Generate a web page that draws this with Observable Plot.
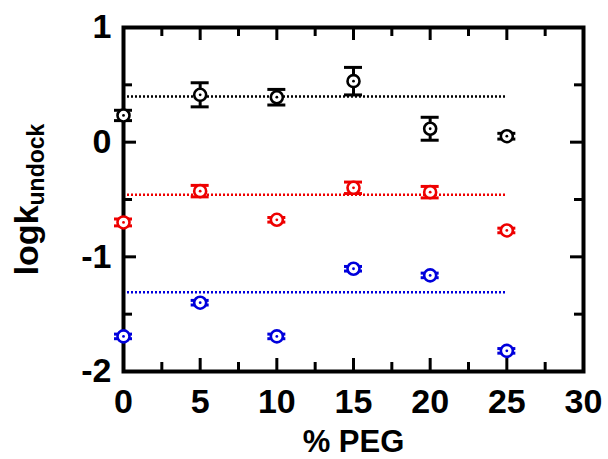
<!DOCTYPE html>
<html>
<head>
<meta charset="utf-8">
<script src="https://cdn.jsdelivr.net/npm/d3@7"></script>
<script src="https://cdn.jsdelivr.net/npm/@observablehq/plot@0.6"></script>
<style>
  html, body { margin: 0; padding: 0; background: white; }
</style>
</head>
<body>
<div id="chart"></div>
<script>
// ---- data ----
const pegPercent = [0, 5, 10, 15, 20, 25];
const blackLog = [0.233, 0.413, 0.392, 0.532, 0.117, 0.052];
const blackErr = [0.045, 0.105, 0.068, 0.12, 0.1, 0.025];
const redLog = [-0.70, -0.427, -0.677, -0.398, -0.436, -0.77];
const redErr = [0.03, 0.05, 0.02, 0.05, 0.05, 0.02];
const blueLog = [-1.694, -1.40, -1.694, -1.104, -1.162, -1.82];
const blueErr = [0.02, 0.02, 0.02, 0.02, 0.02, 0.02];
const meanLog = [0.398, -0.459, -1.308];
const seriesColors = ["#000000", "#ee0000", "#0000dc"];

const xMajor = [0, 5, 10, 15, 20, 25, 30];
const xMinor = [2.5, 7.5, 12.5, 17.5, 22.5, 27.5];
const yMajor = [-2, -1, 0, 1];
const yMinor = [-1.5, -0.5, 0.5];
const xLabel = "% PEG";
const yLabelMain = "logk";
const yLabelSub = "undock";

// ---- build tables ----
const seriesVals = [blackLog, redLog, blueLog];
const seriesErrs = [blackErr, redErr, blueErr];
const points = [];
seriesVals.forEach((vals, s) => {
  vals.forEach((v, i) => {
    points.push({x: pegPercent[i], y: v, lo: v - seriesErrs[s][i], hi: v + seriesErrs[s][i], color: seriesColors[s]});
  });
});
const means = meanLog.map((m, s) => ({y: m, color: seriesColors[s]}));
const xStart = d3.min(pegPercent), xEnd = d3.max(pegPercent);

const W = 608, H = 459;
const mL = 123, mR = 25, mT = 27, mB = 88;
const innerW = W - mL - mR, innerH = H - mT - mB;
const majorLen = 13, minorLen = 9;
const font = "'Liberation Sans', Arial, Helvetica, sans-serif";

const chart = Plot.plot({
  width: W,
  height: H,
  marginLeft: mL,
  marginRight: mR,
  marginTop: mT,
  marginBottom: mB,
  style: {fontFamily: font, fontWeight: "bold", background: "white", color: "black"},
  x: {domain: [0, 30]},
  y: {domain: [-2, 1]},
  marks: [
    // dotted mean lines
    Plot.ruleY(means, {y: "y", x1: xStart, x2: xEnd, stroke: "color", strokeWidth: 2.5, strokeDasharray: "2,2"}),
    // inward ticks
    Plot.ruleX(xMajor, {x: d => d, insetTop: innerH - majorLen, strokeWidth: 3}),
    Plot.ruleX(xMinor, {x: d => d, insetTop: innerH - minorLen, strokeWidth: 3}),
    Plot.ruleX(xMajor, {x: d => d, insetBottom: innerH - majorLen, strokeWidth: 3}),
    Plot.ruleX(xMinor, {x: d => d, insetBottom: innerH - minorLen, strokeWidth: 3}),
    Plot.ruleY(yMajor, {y: d => d, insetRight: innerW - majorLen, strokeWidth: 3}),
    Plot.ruleY(yMinor, {y: d => d, insetRight: innerW - minorLen, strokeWidth: 3}),
    Plot.ruleY(yMajor, {y: d => d, insetLeft: innerW - majorLen, strokeWidth: 3}),
    Plot.ruleY(yMinor, {y: d => d, insetLeft: innerW - minorLen, strokeWidth: 3}),
    Plot.frame({strokeWidth: 4, stroke: "black"}),
    // error bars
    Plot.ruleX(points, {x: "x", y1: "lo", y2: "hi", stroke: "color", strokeWidth: 3}),
    Plot.ruleY(points, {y: "hi", x1: "x", x2: "x", insetLeft: -9, insetRight: -9, stroke: "color", strokeWidth: 3}),
    Plot.ruleY(points, {y: "lo", x1: "x", x2: "x", insetLeft: -9, insetRight: -9, stroke: "color", strokeWidth: 3}),
    // markers
    Plot.dot(points, {x: "x", y: "y", r: 6, stroke: "color", fill: "white", strokeWidth: 2.6}),
    Plot.dot(points, {x: "x", y: "y", r: 1.4, fill: "color", stroke: null}),
    // axes text
    Plot.axisX(xMajor, {tickSize: 0, tickPadding: 17, fontSize: 34, fontWeight: "bold", label: null, tickFormat: d => String(d)}),
    Plot.axisY(yMajor, {tickSize: 0, tickPadding: 12, fontSize: 34, fontWeight: "bold", label: null, tickFormat: d => d < 0 ? "-" + Math.abs(d) : String(d)}),
    Plot.text([xLabel], {frameAnchor: "bottom", dy: 58, lineAnchor: "top", fontSize: 31, fontWeight: "bold", fill: "black"}),
    Plot.text([yLabelMain], {frameAnchor: "left", dx: -86, rotate: -90, textAnchor: "middle", lineAnchor: "bottom", fontSize: 34, fontWeight: "bold", fill: "black"})
  ]
});

// subscript for the y label
d3.select(chart).selectAll("text").filter(function () { return this.textContent === yLabelMain; })
  .append("tspan").attr("dy", "0.3em").attr("font-size", 23).text(yLabelSub);

document.getElementById("chart").appendChild(chart);
</script>
</body>
</html>
